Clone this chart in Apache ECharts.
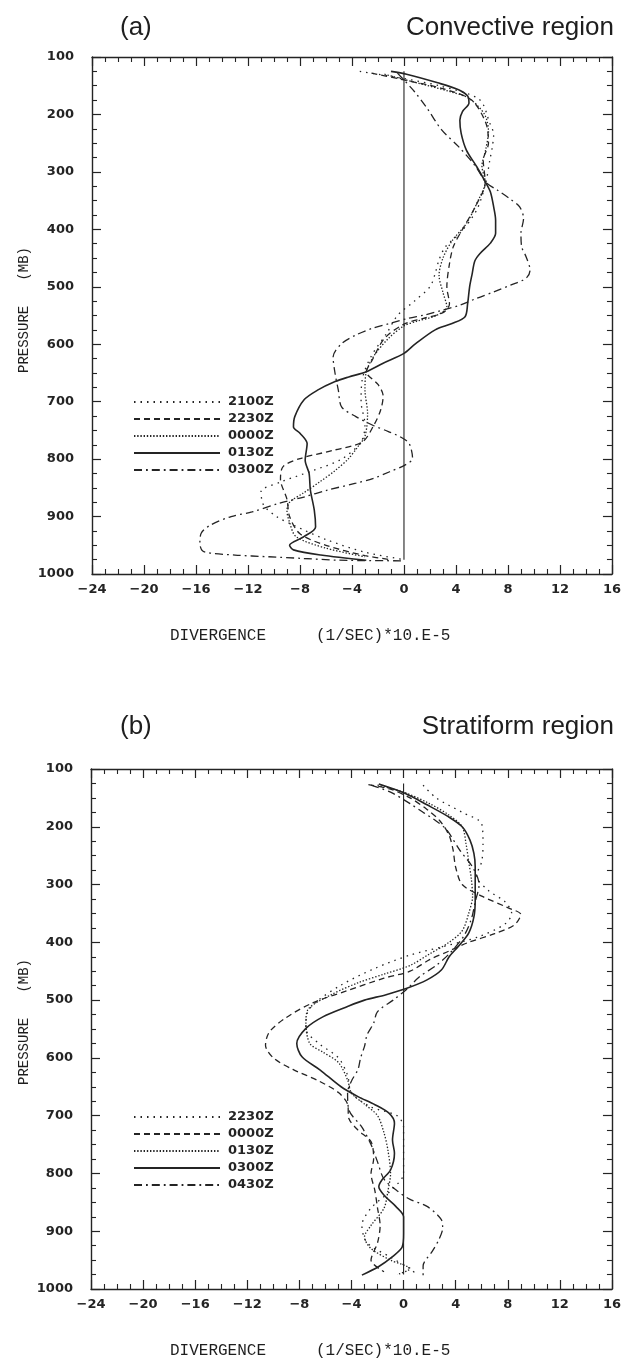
<!DOCTYPE html>
<html>
<head>
<meta charset="utf-8">
<script src="https://cdn.jsdelivr.net/npm/echarts/dist/echarts.min.js"></script>
<style>
  html, body { margin: 0; padding: 0; background: #fff; }
  #chart { width: 624px; height: 1361px; }
</style>
</head>
<body>
<div id="chart"></div>
<script>
// Divergence profiles, [divergence (1/s * 1e-5), pressure (mb)]

// Axis ranges
const divMin = -24, divMax = 16, divStep = 4;
const presMin = 100, presMax = 1000, presStep = 100;

// Panel (a): convective region
const aNames = ['2100Z', '2230Z', '0000Z', '0130Z', '0300Z'];
const a2100 = [[-3.4,125],[-0.4,136],[2.7,150],[5.8,174],[6.6,215],[6.9,235],[6.8,256],[6.6,280],[6.3,318],[5.6,366],[4.3,407],[3.2,430],[2.7,453],[2.4,477],[2.0,500],[0.8,525],[-0.5,550],[-1.3,580],[-2.5,620],[-3.2,660],[-3.3,700],[-3.0,740],[-3.3,770],[-4.8,800],[-7.0,820],[-9.5,840],[-11.0,857],[-10.8,880],[-9.8,900],[-8.5,915],[-6.0,940],[-3.0,962],[0,975]];
const a2230 = [[-2.5,128],[0,140],[3.0,155],[5.2,175],[6.3,215],[6.5,250],[6.1,280],[6.25,318],[5.5,360],[4.5,400],[3.8,430],[3.5,460],[3.3,500],[3.5,530],[3.0,545],[1.5,555],[0,565],[-1.5,590],[-2.5,630],[-2.9,648],[-2.0,670],[-1.6,690],[-1.8,715],[-2.3,740],[-3.2,770],[-5.5,785],[-8.0,799],[-9.3,813],[-9.5,835],[-9.0,870],[-8.8,900],[-8.0,930],[-6.0,950],[-3.0,968],[-1.0,975]];
const a0000 = [[-1.5,130],[1.0,145],[3.5,160],[5.0,172],[6.2,200],[6.5,230],[6.3,260],[6.0,290],[6.25,318],[5.7,350],[4.8,390],[3.7,420],[3.0,450],[2.7,480],[3.0,510],[3.3,535],[2.5,550],[1.0,560],[0,568],[-1.2,590],[-2.3,620],[-2.9,648],[-3.0,680],[-2.8,720],[-3.0,760],[-3.6,780],[-4.3,800],[-5.3,820],[-6.5,840],[-7.8,860],[-8.8,875],[-9.0,890],[-8.8,910],[-8.3,935],[-6.0,955],[-3.0,970]];
const a0130 = [[-1.0,125],[0.2,130],[2.6,145],[4.2,157],[4.9,168],[5.0,180],[4.5,195],[4.3,210],[4.4,233],[4.8,262],[5.6,291],[6.25,317],[6.65,335],[6.9,361],[7.05,384],[7.05,407],[6.65,424],[5.85,442],[5.45,455],[5.25,477],[5.05,500],[4.9,529],[4.7,552],[3.7,564],[2.4,575],[0.9,599],[0,616],[-1.6,633],[-2.9,648],[-4.25,657],[-5.3,665],[-6.65,680],[-7.7,697],[-8.4,726],[-8.5,744],[-8.0,755],[-7.45,773],[-7.6,802],[-7.3,825],[-7.2,854],[-6.9,889],[-6.8,918],[-7.7,935],[-8.8,950],[-8.5,958],[-6.4,967],[-2.9,976]];
const a0300 = [[-0.5,128],[0.8,160],[1.8,190],[2.9,227],[4.2,256],[5.5,290],[6.3,318],[7.2,332],[8.1,346],[8.9,361],[9.2,381],[9.0,407],[9.05,430],[9.4,448],[9.7,471],[9.4,485],[8.2,497],[6.9,509],[5.6,520],[4.3,532],[2.9,541],[1.6,549],[0.3,555],[-1.1,564],[-2.4,572],[-3.7,584],[-4.8,599],[-5.45,622],[-5.3,651],[-5.05,680],[-4.8,709],[-3.7,726],[-2.4,741],[-1.2,752],[-0.3,761],[0.4,773],[0.66,799],[0.1,810],[-1.1,822],[-2.4,834],[-3.7,842],[-5.9,854],[-7.7,866],[-9.6,877],[-11.7,892],[-13.3,900],[-14.9,915],[-15.6,929],[-15.7,947],[-15.4,961],[-13.0,967],[-10.4,970],[-7.7,973],[-5.0,976],[0,977]];

// Panel (b): stratiform region
const bNames = ['2230Z', '0000Z', '0130Z', '0300Z', '0430Z'];
const b2230 = [[1.5,128],[2.5,150],[4.5,175],[6.0,195],[6.1,230],[6.0,260],[5.6,285],[6.5,310],[7.8,330],[8.3,350],[7.8,368],[5.8,390],[3.1,407],[0.5,422],[-2.2,445],[-4.8,474],[-6.7,503],[-7.4,523],[-7.5,550],[-6.5,575],[-5.0,600],[-4.3,630],[-4.0,660],[-2.5,685],[-0.5,700],[0,720],[0,800],[-1.0,830],[-2.5,860],[-3.2,890],[-2.8,920],[-1.0,945],[0.5,965],[1.0,975]];
const b0000 = [[-2.7,127],[-1.0,135],[0.5,150],[1.8,170],[2.8,190],[3.5,215],[3.8,240],[4.0,270],[4.5,300],[6.0,320],[8.0,340],[9.0,352],[8.5,370],[7.0,385],[5.0,400],[3.5,415],[2.0,430],[0.5,450],[-1.5,462],[-4.5,485],[-7.0,505],[-9.0,530],[-10.3,555],[-10.6,578],[-10.0,600],[-8.5,620],[-6.5,640],[-5.0,660],[-4.3,680],[-4.2,705],[-3.5,725],[-2.5,745],[-2.3,775],[-2.5,800],[-2.2,830],[-2.0,860],[-1.8,890],[-2.0,920],[-2.5,950],[-1.5,970]];
const b0130 = [[-2.0,128],[0,140],[2.0,160],[3.5,180],[4.5,200],[4.8,230],[5.0,260],[5.2,290],[5.3,320],[5.0,350],[4.5,380],[3.5,400],[2.0,420],[0.5,440],[-1.5,455],[-3.5,470],[-5.5,490],[-7.3,515],[-7.5,540],[-7.2,575],[-6.2,590],[-5.0,608],[-4.3,638],[-4.0,661],[-3.0,680],[-2.0,700],[-1.5,730],[-1.2,760],[-1.0,800],[-1.2,830],[-1.5,860],[-2.5,890],[-3.0,910],[-2.5,930],[-1.0,950],[0.5,965],[-0.5,975]];
const b0300 = [[-1.9,126],[0.1,142],[1.8,162],[3.4,182],[4.5,200],[5.1,223],[5.4,246],[5.5,269],[5.5,298],[5.5,327],[5.4,356],[5.0,384],[4.2,407],[3.5,425],[2.9,448],[1.8,465],[0.2,480],[-1.4,491],[-3.0,500],[-4.3,511],[-6.2,529],[-7.5,549],[-8.2,575],[-7.8,598],[-6.4,621],[-4.8,650],[-3.5,667],[-2.2,681],[-1.1,696],[-0.7,713],[-0.85,742],[-0.7,765],[-1.0,794],[-1.65,811],[-1.9,823],[-1.4,840],[-0.6,857],[0,875],[0,904],[-0.1,927],[-0.85,944],[-1.9,961],[-3.2,976]];
const b0430 = [[-2.5,128],[-1.0,140],[0.5,160],[1.5,175],[2.5,190],[3.3,205],[4.3,240],[5.3,270],[5.8,300],[5.5,330],[5.2,360],[4.6,390],[3.5,420],[2.5,440],[1.2,460],[0.3,480],[-0.8,500],[-2.0,520],[-2.3,540],[-2.8,560],[-3.0,580],[-3.3,600],[-3.5,620],[-4.0,640],[-4.3,660],[-4.2,690],[-3.2,720],[-2.5,750],[-2.0,780],[-1.5,810],[-0.5,830],[0.5,845],[1.8,857],[2.9,880],[3.0,895],[2.7,915],[2.2,935],[1.5,960],[1.5,976]];

// Zero-divergence reference line (pressure span)
const zeroSpanA = [125, 975];
const zeroSpanB = [125, 975];

// ---- styling ----
const INK = '#242424';
const tickFont = { fontFamily: 'DejaVu Sans', fontWeight: 'bold', fontSize: 13, color: INK };
const mono = 'Liberation Mono';
const sans = 'Liberation Sans';

// Line patterns: sparse dots, dashes, dense dots, solid, dash-dot
const patterns = [[1.5, 5], [6, 4], [1.4, 1.8], 'solid', [8, 4, 1.8, 4]];

function fmtDiv(v) { return v < 0 ? '\u2212' + Math.abs(v) : String(v); }

function xAxes(gridIndex) {
  const common = {
    type: 'value', gridIndex, min: divMin, max: divMax, interval: divStep,
    splitLine: { show: false },
    axisLine: { show: true, onZero: false, lineStyle: { color: INK, width: 1.4 } },
    axisTick: { show: true, inside: true, length: 9, lineStyle: { color: INK, width: 1.2 } },
    minorTick: { show: true, splitNumber: 4, length: 5, lineStyle: { color: INK, width: 1.1 } },
    minorSplitLine: { show: false }
  };
  return [
    Object.assign({}, common, { position: 'bottom',
      axisLabel: Object.assign({ margin: 9, formatter: fmtDiv, showMinLabel: true, showMaxLabel: true, hideOverlap: false }, tickFont) }),
    Object.assign({}, common, { position: 'top', axisLabel: { show: false } })
  ];
}

function yAxes(gridIndex) {
  const common = {
    type: 'value', gridIndex, inverse: true, min: presMin, max: presMax, interval: presStep,
    splitLine: { show: false },
    axisLine: { show: true, onZero: false, lineStyle: { color: INK, width: 1.4 } },
    axisTick: { show: true, inside: true, length: 9, lineStyle: { color: INK, width: 1.2 } },
    minorTick: { show: true, splitNumber: 4, length: 5, lineStyle: { color: INK, width: 1.1 } },
    minorSplitLine: { show: false }
  };
  return [
    Object.assign({}, common, { position: 'left',
      axisLabel: Object.assign({ margin: 18, formatter: v => String(v), showMinLabel: true, showMaxLabel: true, hideOverlap: false }, tickFont) }),
    Object.assign({}, common, { position: 'right', axisLabel: { show: false } })
  ];
}

function profileSeries(prefix, names, datasets, axisIdx) {
  return names.map((n, i) => ({
    name: prefix + n,
    type: 'line',
    xAxisIndex: axisIdx, yAxisIndex: axisIdx,
    data: datasets[i],
    symbol: 'none', showSymbol: false,
    smooth: 0.3,
    silent: true,
    itemStyle: { color: INK },
    lineStyle: { color: INK, width: patterns[i] === 'solid' ? 1.6 : 1.3, type: patterns[i], cap: 'butt' }
  }));
}

function zeroLine(span, axisIdx) {
  return {
    name: 'zero', type: 'line', xAxisIndex: axisIdx, yAxisIndex: axisIdx,
    data: [[0, span[0]], [0, span[1]]], symbol: 'none', silent: true,
    lineStyle: { color: INK, width: 1.1, type: 'solid' }
  };
}

function legendFor(prefix, names, top) {
  return {
    show: true, orient: 'vertical', left: 133, top,
    itemWidth: 86, itemHeight: 14, itemGap: 3, padding: 0,
    selectedMode: false,
    data: names.map(n => prefix + n),
    itemStyle: { opacity: 0 },
    formatter: name => name.slice(2),
    textStyle: { fontFamily: 'DejaVu Sans', fontWeight: 'bold', fontSize: 13, color: INK, lineHeight: 14, padding: [0, 0, 0, 3] }
  };
}

function txt(text, x, y, font, align, rotation) {
  return {
    type: 'text', x, y, rotation: rotation || 0, silent: true,
    style: { text, font, fill: '#1e1e1e', align: align || 'left', verticalAlign: 'middle' }
  };
}

const chart = echarts.init(document.getElementById('chart'), null, { renderer: 'canvas' });

chart.setOption({
  animation: false,
  backgroundColor: '#ffffff',
  grid: [
    { left: 92, top: 57, width: 521, height: 517, containLabel: false },
    { left: 91, top: 769, width: 522, height: 520, containLabel: false }
  ],
  xAxis: [...xAxes(0), ...xAxes(1)],
  yAxis: [...yAxes(0), ...yAxes(1)],
  legend: [legendFor('a|', aNames, 395), legendFor('b|', bNames, 1110)],
  series: [
    zeroLine(zeroSpanA, 0),
    ...profileSeries('a|', aNames, [a2100, a2230, a0000, a0130, a0300], 0),
    zeroLine(zeroSpanB, 2),
    ...profileSeries('b|', bNames, [b2230, b0000, b0130, b0300, b0430], 2)
  ],
  graphic: [
    txt('(a)', 120, 28, '26px ' + sans),
    txt('Convective region', 614, 28, '26px ' + sans, 'right'),
    txt('(b)', 120, 727, '26px ' + sans),
    txt('Stratiform region', 614, 727, '26px ' + sans, 'right'),
    txt('DIVERGENCE', 170, 636, '16px ' + mono),
    txt('(1/SEC)*10.E-5', 316, 636, '16px ' + mono),
    txt('DIVERGENCE', 170, 1351, '16px ' + mono),
    txt('(1/SEC)*10.E-5', 316, 1351, '16px ' + mono),
    txt('PRESSURE   (MB)', 24, 310, '14px ' + mono, 'center', Math.PI / 2),
    txt('PRESSURE   (MB)', 24, 1022, '14px ' + mono, 'center', Math.PI / 2)
  ]
});
</script>
</body>
</html>
